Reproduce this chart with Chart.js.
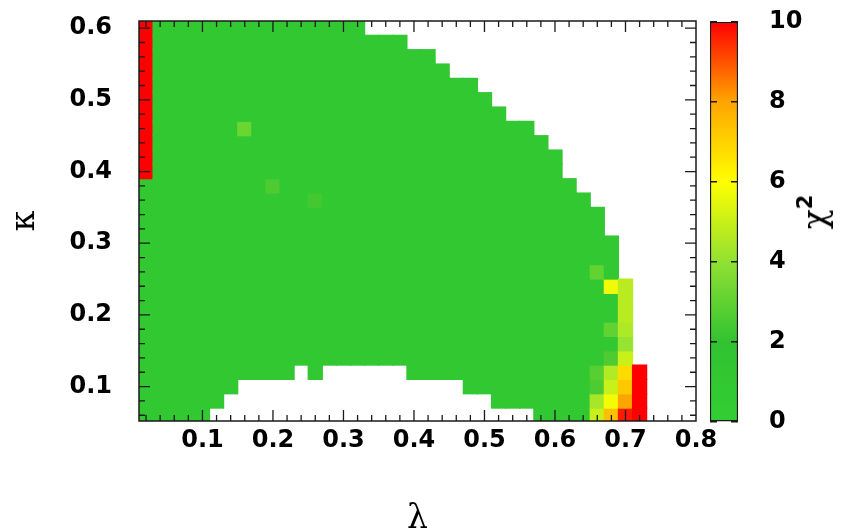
<!DOCTYPE html>
<html>
<head>
<meta charset="utf-8">
<title>chi2 map</title>
<script src="https://cdn.jsdelivr.net/npm/chart.js@4.4.1/dist/chart.umd.min.js"></script>
<style>
  html, body { margin: 0; padding: 0; background: #fff; }
  #wrap { position: relative; width: 852px; height: 532px; }
  #wrap canvas { position: absolute; left: 0; top: 0; }
  #chiTitle {
    position: absolute; left: 812px; top: 212px;
    transform: translate(-50%, -50%) rotate(-90deg);
    font: 33px 'DejaVu Serif', serif; color: #000; white-space: nowrap; line-height: 1;
  }
  #chiTitle sup { font: bold 21px 'DejaVu Sans', sans-serif; vertical-align: 14px; }
</style>
</head>
<body>
<div id="wrap">
  <canvas id="mapChart" width="852" height="532"></canvas>
  <canvas id="barChart" width="852" height="532"></canvas>
  <div id="chiTitle">χ<sup>2</sup></div>
</div>
<script>
// grid columns (lambda) and rows (kappa), cell centres
const lambdaCols = [0.02, 0.04, 0.06, 0.08, 0.10, 0.12, 0.14, 0.16, 0.18, 0.20,
                    0.22, 0.24, 0.26, 0.28, 0.30, 0.32, 0.34, 0.36, 0.38, 0.40,
                    0.42, 0.44, 0.46, 0.48, 0.50, 0.52, 0.54, 0.56, 0.58, 0.60,
                    0.62, 0.64, 0.66, 0.68, 0.70, 0.72];
const kappaRows = [0.06, 0.08, 0.10, 0.12, 0.14, 0.16, 0.18, 0.20, 0.22, 0.24,
                   0.26, 0.28, 0.30, 0.32, 0.34, 0.36, 0.38, 0.40, 0.42, 0.44,
                   0.46, 0.48, 0.50, 0.52, 0.54, 0.56, 0.58, 0.60];

// lowest and highest kappa row that has a fit, per lambda column
const kappaLow  = [0.06, 0.06, 0.06, 0.06, 0.06, 0.08, 0.10, 0.12, 0.12, 0.12,
                   0.12, 0.14, 0.12, 0.14, 0.14, 0.14, 0.14, 0.14, 0.14, 0.12,
                   0.12, 0.12, 0.12, 0.10, 0.10, 0.08, 0.08, 0.08, 0.06, 0.06,
                   0.06, 0.06, 0.06, 0.06, 0.06, 0.06];
const kappaHigh = [0.60, 0.60, 0.60, 0.60, 0.60, 0.60, 0.60, 0.60, 0.60, 0.60,
                   0.60, 0.60, 0.60, 0.60, 0.60, 0.60, 0.58, 0.58, 0.58, 0.56,
                   0.56, 0.54, 0.52, 0.52, 0.50, 0.48, 0.46, 0.46, 0.44, 0.42,
                   0.38, 0.36, 0.34, 0.30, 0.24, 0.12];

// chi^2 of the flat green area
const baseChi2 = 1.0;

// cells that stand out: [lambda, kappa, chi2]
const hotCells = [
  [0.02, 0.40, 12], [0.02, 0.42, 12], [0.02, 0.44, 12], [0.02, 0.46, 12],
  [0.02, 0.48, 12], [0.02, 0.50, 12], [0.02, 0.52, 12], [0.02, 0.54, 12],
  [0.02, 0.56, 12], [0.02, 0.58, 12], [0.02, 0.60, 12],
  [0.16, 0.46, 3.2], [0.20, 0.38, 2.6], [0.26, 0.36, 2.4],
  [0.66, 0.26, 3.0], [0.66, 0.12, 2.8], [0.66, 0.10, 2.6], [0.66, 0.08, 4.4], [0.66, 0.06, 5.0],
  [0.68, 0.24, 5.7], [0.68, 0.18, 3.0], [0.68, 0.14, 2.6], [0.68, 0.12, 4.6],
  [0.68, 0.10, 5.0], [0.68, 0.08, 5.8], [0.68, 0.06, 7.4],
  [0.70, 0.24, 4.7], [0.70, 0.22, 4.7], [0.70, 0.20, 4.7], [0.70, 0.18, 4.5],
  [0.70, 0.16, 4.1], [0.70, 0.14, 5.0], [0.70, 0.12, 6.8], [0.70, 0.10, 7.2],
  [0.70, 0.08, 8.0], [0.70, 0.06, 9.7],
  [0.72, 0.06, 12], [0.72, 0.08, 12], [0.72, 0.10, 12], [0.72, 0.12, 12]
];

const xTickValues = [0.1, 0.2, 0.3, 0.4, 0.5, 0.6, 0.7, 0.8];
const yTickValues = [0.1, 0.2, 0.3, 0.4, 0.5, 0.6];
const barTickValues = [0, 2, 4, 6, 8, 10];

const gridStep = 0.02;

// palette: chi2 value -> rgb
const paletteStops = [
  [0,  [51, 206, 51]],
  [2,  [49, 194, 49]],
  [4,  [145, 225, 50]],
  [6,  [255, 255, 0]],
  [8,  [255, 165, 0]],
  [10, [255, 0, 0]]
];

function rgb(c) {
  return 'rgb(' + c.map(v => Math.round(v)).join(',') + ')';
}

function chi2Color(v) {
  const t = Math.min(Math.max(v, 0), 10);
  for (let k = 1; k < paletteStops.length; k++) {
    const [v0, c0] = paletteStops[k - 1];
    const [v1, c1] = paletteStops[k];
    if (t <= v1) {
      const f = (t - v0) / (v1 - v0);
      return rgb(c0.map((c, j) => c + (c1[j] - c) * f));
    }
  }
  return rgb(paletteStops[paletteStops.length - 1][1]);
}

// build one floating bar per grid cell
const cells = [];
lambdaCols.forEach((lam, i) => {
  kappaRows.forEach(kap => {
    if (kap < kappaLow[i] - 1e-6 || kap > kappaHigh[i] + 1e-6) return;
    const hot = hotCells.find(c => Math.abs(c[0] - lam) < 1e-6 && Math.abs(c[1] - kap) < 1e-6);
    cells.push({ x: lam, y: [kap - gridStep / 2, kap + gridStep / 2], chi2: hot ? hot[2] : baseChi2 });
  });
});

const tickFont = { family: 'DejaVu Sans', size: 24, weight: 'bold' };
const inkColor = '#1a1a1a';

// keep tick labels from pushing the plot area around
function noLabelPadding(s) {
  s.paddingTop = 0; s.paddingBottom = 0;
  s.paddingLeft = 0; s.paddingRight = 0;
}

// gnuplot style frame: border plus inward ticks on all four sides
const frameTicks = {
  id: 'frameTicks',
  afterDatasetsDraw(chart) {
    const { ctx, chartArea: a, scales: { x, y } } = chart;
    ctx.save();
    ctx.strokeStyle = inkColor;
    ctx.lineWidth = 1.3;
    ctx.beginPath();
    for (let k = 1; k <= 39; k++) {
      const px = x.getPixelForValue(k * gridStep);
      const len = k % 5 === 0 ? 11 : 6;
      ctx.moveTo(px, a.bottom); ctx.lineTo(px, a.bottom - len);
      ctx.moveTo(px, a.top); ctx.lineTo(px, a.top + len);
    }
    for (let k = 3; k <= 30; k++) {
      const py = y.getPixelForValue(k * gridStep);
      const len = k % 5 === 0 ? 11 : 6;
      ctx.moveTo(a.left, py); ctx.lineTo(a.left + len, py);
      ctx.moveTo(a.right, py); ctx.lineTo(a.right - len, py);
    }
    ctx.stroke();
    ctx.lineWidth = 1.5;
    ctx.strokeRect(a.left, a.top, a.right - a.left, a.bottom - a.top);
    ctx.restore();
  }
};

new Chart(document.getElementById('mapChart'), {
  type: 'bar',
  data: {
    datasets: [{
      data: cells,
      backgroundColor: ctx => chi2Color(ctx.raw.chi2),
      borderWidth: 0,
      inflateAmount: 0.6,
      barPercentage: 1,
      categoryPercentage: 1
    }]
  },
  options: {
    responsive: false,
    animation: false,
    events: [],
    layout: { padding: { top: 21, right: 156, left: 0, bottom: 0 } },
    plugins: { legend: { display: false }, tooltip: { enabled: false } },
    scales: {
      x: {
        type: 'linear', min: 0.01, max: 0.8, offset: false,
        afterBuildTicks: s => { s.ticks = xTickValues.map(v => ({ value: v })); },
        afterFit: s => { s.height = 111; noLabelPadding(s); },
        grid: { display: false, offset: false },
        border: { display: false },
        ticks: { callback: v => v.toFixed(1), font: tickFont, color: '#000', padding: -3, maxRotation: 0, autoSkip: false },
        title: { display: true, text: 'λ', color: '#000', font: { family: 'DejaVu Serif', size: 33, lineHeight: 1 }, padding: { top: 0, bottom: -4 } }
      },
      y: {
        type: 'linear', min: 0.052, max: 0.61,
        afterBuildTicks: s => { s.ticks = yTickValues.map(v => ({ value: v })); },
        afterFit: s => { s.width = 139; noLabelPadding(s); },
        grid: { display: false },
        border: { display: false },
        ticks: { callback: v => v.toFixed(1), font: tickFont, color: '#000', padding: 19, autoSkip: false },
        title: { display: true, text: 'κ', color: '#000', font: { family: 'DejaVu Serif', size: 33, lineHeight: 1 }, padding: { top: 9, bottom: 0 } }
      }
    }
  },
  plugins: [frameTicks]
});

// colour bar: a single floating bar 0..10 filled with the palette
new Chart(document.getElementById('barChart'), {
  type: 'bar',
  data: {
    labels: ['chi2'],
    datasets: [{
      data: [[0, 10]],
      backgroundColor: ctx => {
        const chart = ctx.chart;
        if (!chart.chartArea) return null;
        const ys = chart.scales.y;
        const g = chart.ctx.createLinearGradient(0, ys.getPixelForValue(0), 0, ys.getPixelForValue(10));
        paletteStops.forEach(([v, c]) => g.addColorStop(v / 10, rgb(c)));
        return g;
      },
      borderColor: inkColor,
      borderWidth: 1.5,
      borderSkipped: false,
      barPercentage: 1,
      categoryPercentage: 1
    }]
  },
  options: {
    responsive: false,
    animation: false,
    events: [],
    layout: { padding: { top: 22, left: 710, right: 0, bottom: 110 } },
    plugins: { legend: { display: false }, tooltip: { enabled: false } },
    scales: {
      x: { display: false },
      y: {
        position: 'right', min: 0, max: 10,
        afterBuildTicks: s => { s.ticks = barTickValues.map(v => ({ value: v })); },
        afterFit: s => { s.width = 852 - 738; noLabelPadding(s); },
        grid: { color: inkColor, lineWidth: 1.5, drawTicks: false, z: 1 },
        border: { display: false, dash: [7, 14] },
        ticks: { font: tickFont, color: '#000', padding: 31 }
      }
    }
  }
});
</script>
</body>
</html>
